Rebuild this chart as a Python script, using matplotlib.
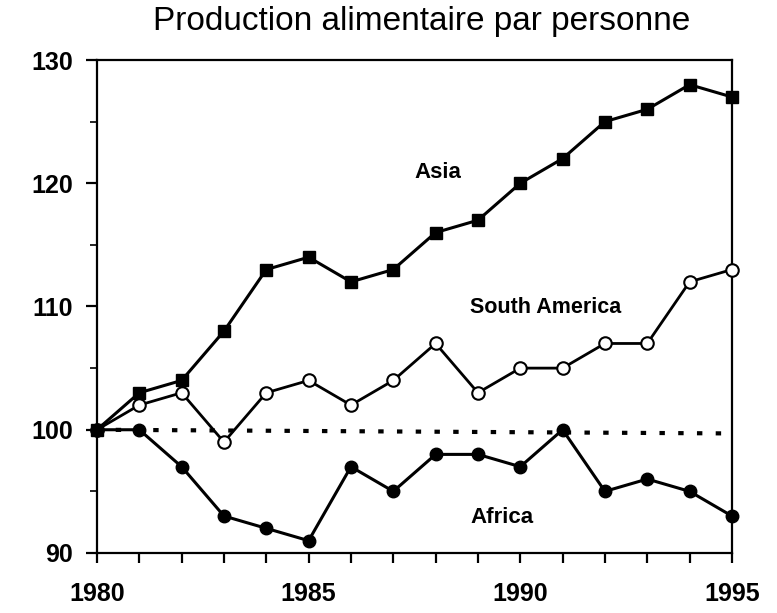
import matplotlib
matplotlib.use("Agg")
import matplotlib.pyplot as plt
from matplotlib.ticker import MultipleLocator

plt.rcParams['font.family'] = ['Liberation Sans', 'DejaVu Sans']

# donnees
annees = list(range(1980, 1996))
asie = [100, 103, 104, 108, 113, 114, 112, 113, 116, 117, 120, 122, 125, 126, 128, 127]
amerique_sud = [100, 102, 103, 99, 103, 104, 102, 104, 107, 103, 105, 105, 107, 107, 112, 113]
afrique = [100, 100, 97, 93, 92, 91, 97, 95, 98, 98, 97, 100, 95, 96, 95, 93]
reference = [100, 99.7]

fig = plt.figure(figsize=(7.77, 6.13), dpi=100)
ax = fig.add_axes([0.1248, 0.0979, 0.8172, 0.8042])

# ligne de reference pointillee
ax.plot([annees[0], annees[-1]], reference, color='black', lw=3,
        linestyle=(0, (1.3, 3.2)), zorder=1, clip_on=False)
ax.plot(annees, asie, color='black', lw=2.2, marker='s', ms=9,
        mfc='black', mec='black', zorder=3, clip_on=False)
ax.plot(annees, amerique_sud, color='black', lw=2, marker='o', ms=9,
        mfc='white', mec='black', mew=1.5, zorder=3, clip_on=False)
ax.plot(annees, afrique, color='black', lw=2.2, marker='o', ms=9,
        mfc='black', mec='black', zorder=3, clip_on=False)

ax.text(1988.05, 120.9, 'Asia', fontsize=16, fontweight='bold', ha='center', va='center')
ax.text(1990.6, 109.95, 'South America', fontsize=15.5, fontweight='bold', ha='center', va='center')
ax.text(1989.56, 92.9, 'Africa', fontsize=16, fontweight='bold', ha='center', va='center')

ax.set_xlim(1980, 1995)
ax.set_ylim(90, 130)
ax.set_xticks([1980, 1985, 1990, 1995])
ax.xaxis.set_minor_locator(MultipleLocator(1))
ax.set_yticks([90, 100, 110, 120, 130])
ax.yaxis.set_minor_locator(MultipleLocator(5))

ax.tick_params(axis='x', which='both', direction='out', length=7, width=1.6, pad=14,
               labelsize=18)
ax.tick_params(axis='y', which='major', direction='out', length=8, width=1.6, pad=9,
               labelsize=18)
ax.tick_params(axis='y', which='minor', direction='out', length=5, width=1.2)
for lab in ax.get_xticklabels() + ax.get_yticklabels():
    lab.set_fontweight('bold')

for s in ax.spines.values():
    s.set_linewidth(1.6)

fig.text(0.543, 0.951, 'Production alimentaire par personne', fontsize=24,
         ha='center', va='baseline')

fig.savefig('out.png', dpi=100)
